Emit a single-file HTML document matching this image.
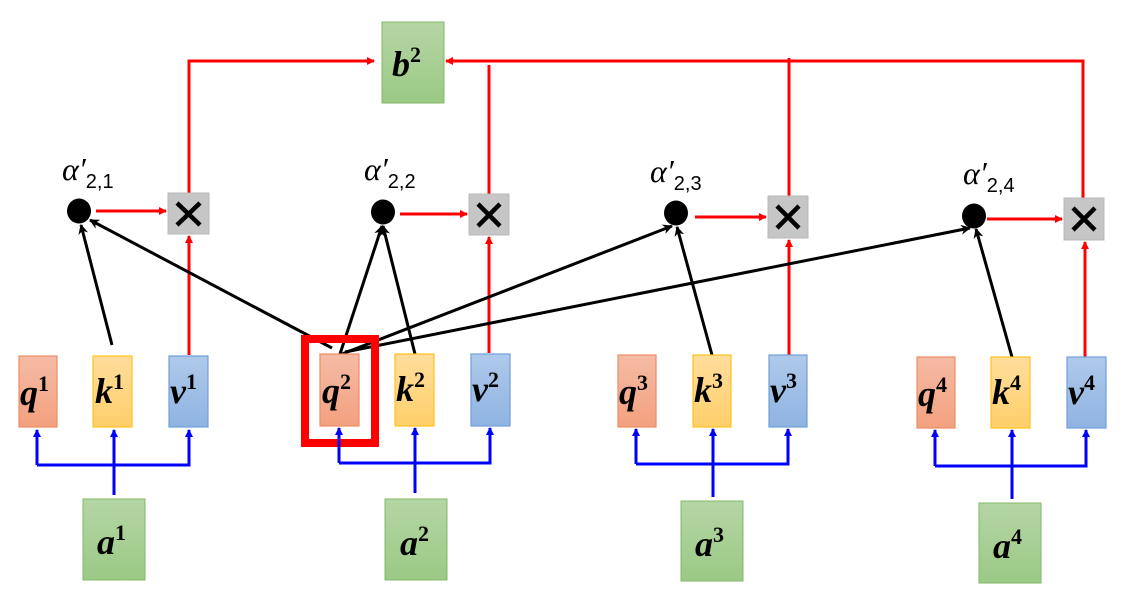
<!DOCTYPE html>
<html><head><meta charset="utf-8"><style>
html,body{margin:0;padding:0;background:#fff;}
svg{display:block;}
.t{font-family:"Liberation Serif",serif;font-weight:bold;font-style:italic;font-size:36px;fill:#000;}
.s{font-family:"Liberation Serif",serif;font-weight:bold;font-style:normal;font-size:22px;}
.al{font-family:"Liberation Serif",serif;font-style:italic;font-size:32px;}
.sub{font-family:"Liberation Sans",sans-serif;font-size:20px;font-style:normal;}
</style></head><body>
<svg width="1131" height="594" viewBox="0 0 1131 594" xmlns="http://www.w3.org/2000/svg">
<defs>
<linearGradient id="gq" x1="0" y1="0" x2="0" y2="1"><stop offset="0" stop-color="#f5bba5"/><stop offset="1" stop-color="#f3a17f"/></linearGradient>
<linearGradient id="gk" x1="0" y1="0" x2="0" y2="1"><stop offset="0" stop-color="#ffdd9c"/><stop offset="1" stop-color="#ffcf6a"/></linearGradient>
<linearGradient id="gv" x1="0" y1="0" x2="0" y2="1"><stop offset="0" stop-color="#afc9ea"/><stop offset="1" stop-color="#8fb4e2"/></linearGradient>
<linearGradient id="ga" x1="0" y1="0" x2="0" y2="1"><stop offset="0" stop-color="#b5d6a5"/><stop offset="1" stop-color="#9bc985"/></linearGradient>
<marker id="ar" markerWidth="8" markerHeight="8" refX="7" refY="4" orient="auto" markerUnits="userSpaceOnUse"><path d="M0,0 L8,4 L0,8 z" fill="#f00"/></marker>
<marker id="ab" markerWidth="8" markerHeight="8" refX="7" refY="4" orient="auto" markerUnits="userSpaceOnUse"><path d="M0,0 L8,4 L0,8 z" fill="#00f"/></marker>
<marker id="ak" markerWidth="10" markerHeight="10" refX="9" refY="5" orient="auto" markerUnits="userSpaceOnUse"><path d="M0,0 L10,5 L0,10 L3,5 z" fill="#000"/></marker>
</defs>

<!-- b2 -->
<rect x="382" y="22" width="62" height="81" fill="url(#ga)" stroke="#82b866"/>
<text x="392" y="76" class="t">b<tspan class="s" dy="-14">2</tspan></text>

<!-- top red lines -->
<g stroke="#f00" stroke-width="3" fill="none">
<polyline points="189,193 189,61 374,61" marker-end="url(#ar)"/>
<polyline points="1083,198 1083,61 446,61" marker-end="url(#ar)"/>
<line x1="489" y1="65" x2="489" y2="194"/>
<line x1="789" y1="58" x2="789" y2="196"/>
</g>

<!-- alpha labels -->
<text x="62" y="180" class="al">α′<tspan class="sub" dy="8">2,1</tspan></text>
<text x="364" y="180" class="al">α′<tspan class="sub" dy="8">2,2</tspan></text>
<text x="650" y="182" class="al">α′<tspan class="sub" dy="8">2,3</tspan></text>
<text x="963" y="184" class="al">α′<tspan class="sub" dy="8">2,4</tspan></text>

<!-- dots -->
<ellipse cx="79" cy="211" rx="12" ry="12.5" fill="#000"/>
<ellipse cx="383" cy="212" rx="12" ry="12.5" fill="#000"/>
<ellipse cx="676" cy="213" rx="12" ry="12.5" fill="#000"/>
<ellipse cx="974" cy="216" rx="12" ry="12.5" fill="#000"/>

<!-- X boxes -->
<g fill="#c6c6c6" stroke="#b8b8b8">
<rect x="168" y="193" width="41" height="41"/>
<rect x="469" y="194" width="40" height="41"/>
<rect x="768" y="196" width="40" height="42"/>
<rect x="1064" y="198" width="40" height="42"/>
</g>
<g stroke="#000" stroke-width="4.5">
<path d="M177,203 L200,225 M200,203 L177,225"/>
<path d="M478,204 L500,226 M500,204 L478,226"/>
<path d="M777,206 L799,228 M799,206 L777,228"/>
<path d="M1073,208 L1095,230 M1095,208 L1073,230"/>
</g>

<!-- red dot->X and v->X -->
<g stroke="#f00" stroke-width="3" fill="none">
<line x1="96" y1="211" x2="166" y2="211" marker-end="url(#ar)"/>
<line x1="400" y1="214" x2="467" y2="214" marker-end="url(#ar)"/>
<line x1="695" y1="217" x2="766" y2="217" marker-end="url(#ar)"/>
<line x1="987" y1="219" x2="1062" y2="219" marker-end="url(#ar)"/>
<line x1="189" y1="355" x2="189" y2="236" marker-end="url(#ar)"/>
<line x1="489" y1="353" x2="489" y2="237" marker-end="url(#ar)"/>
<line x1="789" y1="355" x2="789" y2="240" marker-end="url(#ar)"/>
<line x1="1085" y1="357" x2="1085" y2="242" marker-end="url(#ar)"/>
</g>

<!-- black arrows -->
<g stroke="#000" stroke-width="3" fill="none">
<line x1="112" y1="345" x2="81" y2="225" marker-end="url(#ak)"/>
<line x1="332" y1="348" x2="90" y2="220" marker-end="url(#ak)"/>
<line x1="340" y1="354" x2="382" y2="226" marker-end="url(#ak)"/>
<line x1="415" y1="354" x2="383" y2="226" marker-end="url(#ak)"/>
<line x1="342" y1="354" x2="672" y2="226" marker-end="url(#ak)"/>
<line x1="345" y1="352" x2="970" y2="228" marker-end="url(#ak)"/>
<line x1="712" y1="355" x2="677" y2="227" marker-end="url(#ak)"/>
<line x1="1012" y1="357" x2="976" y2="229" marker-end="url(#ak)"/>
</g>

<!-- red highlight box -->
<rect x="305" y="339" width="70" height="104" fill="none" stroke="#f00" stroke-width="8"/>

<!-- q k v boxes -->
<g stroke-width="1.2">
<rect x="19" y="356" width="38" height="71" fill="url(#gq)" stroke="#ec8c64"/>
<rect x="93" y="356" width="39" height="71" fill="url(#gk)" stroke="#ffc21a"/>
<rect x="169" y="356" width="39" height="71" fill="url(#gv)" stroke="#6f9fd9"/>
<rect x="320" y="354" width="39" height="72" fill="url(#gq)" stroke="#ec8c64"/>
<rect x="395" y="354" width="39" height="72" fill="url(#gk)" stroke="#ffc21a"/>
<rect x="471" y="354" width="39" height="72" fill="url(#gv)" stroke="#6f9fd9"/>
<rect x="618" y="355" width="38" height="72" fill="url(#gq)" stroke="#ec8c64"/>
<rect x="693" y="355" width="38" height="72" fill="url(#gk)" stroke="#ffc21a"/>
<rect x="769" y="355" width="38" height="72" fill="url(#gv)" stroke="#6f9fd9"/>
<rect x="917" y="357" width="38" height="71" fill="url(#gq)" stroke="#ec8c64"/>
<rect x="991" y="357" width="39" height="71" fill="url(#gk)" stroke="#ffc21a"/>
<rect x="1067" y="357" width="39" height="71" fill="url(#gv)" stroke="#6f9fd9"/>
</g>
<g class="t">
<text x="20" y="405">q<tspan class="s" dy="-14">1</tspan></text>
<text x="95" y="403">k<tspan class="s" dy="-14">1</tspan></text>
<text x="170" y="403">v<tspan class="s" dy="-14">1</tspan></text>
<text x="322" y="403">q<tspan class="s" dy="-14">2</tspan></text>
<text x="396" y="401">k<tspan class="s" dy="-14">2</tspan></text>
<text x="472" y="401">v<tspan class="s" dy="-14">2</tspan></text>
<text x="619" y="404">q<tspan class="s" dy="-14">3</tspan></text>
<text x="694" y="402">k<tspan class="s" dy="-14">3</tspan></text>
<text x="770" y="402">v<tspan class="s" dy="-14">3</tspan></text>
<text x="918" y="406">q<tspan class="s" dy="-14">4</tspan></text>
<text x="992" y="404">k<tspan class="s" dy="-14">4</tspan></text>
<text x="1068" y="404">v<tspan class="s" dy="-14">4</tspan></text>
</g>

<!-- blue buses -->
<g stroke="#00f" stroke-width="3" fill="none">
<line x1="114" y1="495" x2="114" y2="465"/>
<polyline points="37,465 37,430" marker-end="url(#ab)"/>
<polyline points="37,465 189,465 189,430" marker-end="url(#ab)"/>
<line x1="114" y1="465" x2="114" y2="430" marker-end="url(#ab)"/>
<line x1="415" y1="493" x2="415" y2="463"/>
<polyline points="339,463 339,428" marker-end="url(#ab)"/>
<polyline points="339,463 490,463 490,428" marker-end="url(#ab)"/>
<line x1="415" y1="463" x2="415" y2="428" marker-end="url(#ab)"/>
<line x1="713" y1="497" x2="713" y2="464"/>
<polyline points="636,464 636,429" marker-end="url(#ab)"/>
<polyline points="636,464 788,464 788,429" marker-end="url(#ab)"/>
<line x1="713" y1="464" x2="713" y2="429" marker-end="url(#ab)"/>
<line x1="1012" y1="499" x2="1012" y2="466"/>
<polyline points="935,466 935,430" marker-end="url(#ab)"/>
<polyline points="935,466 1086,466 1086,430" marker-end="url(#ab)"/>
<line x1="1012" y1="466" x2="1012" y2="430" marker-end="url(#ab)"/>
</g>

<!-- a boxes -->
<g fill="url(#ga)" stroke="#82b866">
<rect x="83" y="499" width="62" height="81"/>
<rect x="385" y="499" width="62" height="81"/>
<rect x="681" y="501" width="62" height="80"/>
<rect x="979" y="503" width="62" height="80"/>
</g>
<g class="t">
<text x="97" y="554">a<tspan class="s" dy="-14">1</tspan></text>
<text x="400" y="555">a<tspan class="s" dy="-14">2</tspan></text>
<text x="695" y="556">a<tspan class="s" dy="-14">3</tspan></text>
<text x="993" y="558">a<tspan class="s" dy="-14">4</tspan></text>
</g>
</svg>
</body></html>
